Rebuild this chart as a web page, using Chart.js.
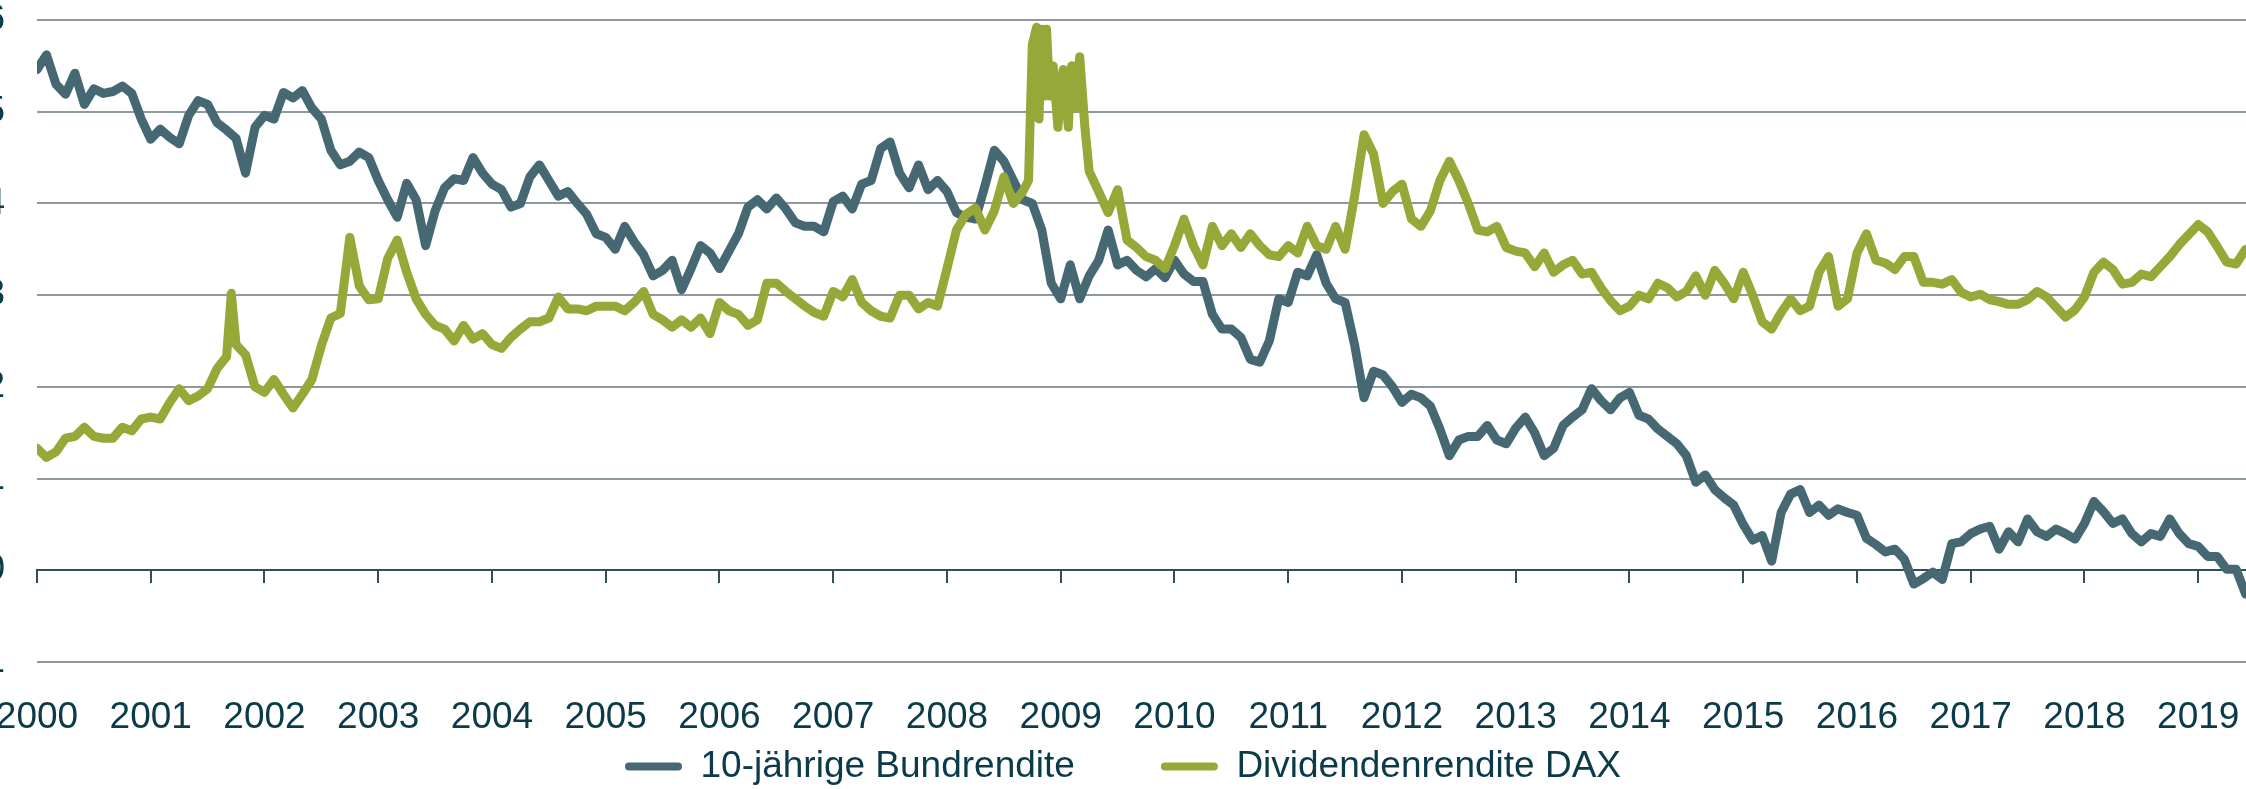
<!DOCTYPE html>
<html lang="de">
<head>
<meta charset="utf-8">
<title>10-jährige Bundrendite und Dividendenrendite DAX</title>
<script src="https://cdn.jsdelivr.net/npm/chart.js@4.4.1/dist/chart.umd.min.js"></script>
<style>
  html, body { margin: 0; padding: 0; background: #ffffff; overflow: hidden; }
  #wrap { position: relative; width: 2246px; height: 789px; overflow: hidden; }
</style>
</head>
<body>
<div id="wrap"><canvas id="chart"></canvas></div>
<script>
// Monthly observations, January 2000 to June 2019 (month index 0 = Jan 2000)
const startYear = 2000;
const monthCount = 234;

// 10-year Bund yield, % (one value per month, rows = years 2000..2019)
const bund = [
  5.46, 5.62, 5.30, 5.19, 5.42, 5.08, 5.25, 5.20, 5.22, 5.28, 5.20, 4.92,
  4.70, 4.81, 4.72, 4.65, 4.96, 5.12, 5.08, 4.88, 4.80, 4.71, 4.33, 4.83,
  4.96, 4.92, 5.21, 5.15, 5.23, 5.04, 4.92, 4.58, 4.42, 4.46, 4.56, 4.50,
  4.25, 4.04, 3.85, 4.22, 4.04, 3.54, 3.92, 4.17, 4.27, 4.25, 4.50, 4.33,
  4.21, 4.15, 3.96, 4.00, 4.29, 4.42, 4.25, 4.08, 4.13, 4.00, 3.88, 3.67,
  3.63, 3.50, 3.75, 3.58, 3.44, 3.21, 3.27, 3.38, 3.06, 3.29, 3.54, 3.46,
  3.29, 3.48, 3.67, 3.96, 4.04, 3.94, 4.06, 3.94, 3.79, 3.75, 3.75, 3.69,
  4.02, 4.08, 3.94, 4.21, 4.25, 4.60, 4.67, 4.33, 4.17, 4.42, 4.15, 4.25,
  4.13, 3.90, 3.85, 3.83, 4.19, 4.58, 4.46, 4.25, 4.04, 4.00, 3.71, 3.13,
  2.96, 3.33, 2.96, 3.21, 3.38, 3.71, 3.33, 3.38, 3.27, 3.20, 3.29, 3.19,
  3.38, 3.23, 3.15, 3.15, 2.79, 2.63, 2.63, 2.54, 2.30, 2.27, 2.50, 2.96,
  2.92, 3.25, 3.21, 3.44, 3.13, 2.96, 2.92, 2.46, 1.88, 2.17, 2.13, 2.00,
  1.83, 1.92, 1.88, 1.79, 1.54, 1.25, 1.42, 1.46, 1.46, 1.58, 1.42, 1.38,
  1.55, 1.67, 1.50, 1.25, 1.33, 1.58, 1.67, 1.75, 1.98, 1.85, 1.75, 1.88,
  1.94, 1.69, 1.65, 1.54, 1.46, 1.38, 1.25, 0.96, 1.04, 0.88, 0.79, 0.71,
  0.50, 0.33, 0.38, 0.10, 0.63, 0.83, 0.88, 0.63, 0.71, 0.60, 0.67, 0.63,
  0.60, 0.35, 0.28, 0.20, 0.23, 0.12, -0.15, -0.09, -0.02, -0.10, 0.29, 0.31,
  0.40, 0.45, 0.48, 0.23, 0.42, 0.31, 0.56, 0.42, 0.37, 0.45, 0.40, 0.34,
  0.51, 0.75, 0.64, 0.51, 0.56, 0.40, 0.31, 0.40, 0.37, 0.56, 0.40, 0.29,
  0.26, 0.15, 0.15, 0.01, 0.01, -0.26
];

// DAX dividend yield, % (one value per month, rows = years 2000..2019)
const dax = [
  1.33, 1.23, 1.29, 1.44, 1.46, 1.56, 1.46, 1.44, 1.44, 1.56, 1.52, 1.65,
  1.67, 1.65, 1.83, 1.98, 1.85, 1.90, 1.98, 2.20, 2.33, 2.46, 2.35, 2.00,
  1.94, 2.08, 1.92, 1.77, 1.92, 2.08, 2.45, 2.75, 2.80, 3.63, 3.10, 2.95,
  2.96, 3.40, 3.60, 3.25, 2.96, 2.79, 2.67, 2.63, 2.50, 2.67, 2.52, 2.58,
  2.46, 2.42, 2.54, 2.63, 2.71, 2.71, 2.75, 2.98, 2.85, 2.85, 2.83, 2.88,
  2.88, 2.88, 2.83, 2.92, 3.04, 2.79, 2.73, 2.65, 2.73, 2.65, 2.75, 2.58,
  2.92, 2.83, 2.79, 2.67, 2.73, 3.13, 3.13, 3.04, 2.96, 2.88, 2.81, 2.77,
  3.04, 2.98, 3.17, 2.92, 2.83, 2.77, 2.75, 3.00, 3.00, 2.85, 2.92, 2.88,
  3.29, 3.71, 3.88, 3.95, 3.71, 3.92, 4.29, 4.00, 4.13, 5.73, 5.90, 5.30,
  5.25, 5.30, 5.60, 4.35, 4.13, 3.90, 4.15, 3.60, 3.52, 3.42, 3.38, 3.29,
  3.54, 3.83, 3.54, 3.33, 3.75, 3.54, 3.67, 3.52, 3.67, 3.54, 3.44, 3.42,
  3.54, 3.46, 3.75, 3.54, 3.50, 3.75, 3.50, 4.08, 4.75, 4.54, 4.00, 4.13,
  4.21, 3.83, 3.75, 3.92, 4.25, 4.46, 4.25, 4.00, 3.71, 3.69, 3.75, 3.52,
  3.48, 3.46, 3.31, 3.46, 3.25, 3.33, 3.38, 3.23, 3.25, 3.08, 2.94, 2.83,
  2.88, 3.00, 2.96, 3.13, 3.08, 2.98, 3.04, 3.21, 3.00, 3.27, 3.13, 2.96,
  3.25, 3.00, 2.71, 2.63, 2.81, 2.96, 2.83, 2.88, 3.25, 3.42, 2.88, 2.96,
  3.46, 3.67, 3.38, 3.35, 3.28, 3.42, 3.42, 3.14, 3.14, 3.12, 3.17, 3.03,
  2.98, 3.01, 2.95, 2.93, 2.90, 2.90, 2.95, 3.04, 2.98, 2.87, 2.76, 2.84,
  2.98, 3.25, 3.36, 3.28, 3.12, 3.14, 3.23, 3.20, 3.31, 3.42, 3.55, 3.66,
  3.77, 3.69, 3.53, 3.36, 3.34, 3.50
];

// Intra-month DAX readings around the 2001 and 2008/09 spikes (month index, %)
const daxSpikeMonths = [20.5, 104.6, 105.45, 105.7, 106.33, 106.5, 106.85, 107.2, 107.7, 108.26, 108.8, 109.15, 109.5, 110.55];
const daxSpikeValues = [3.02, 4.25, 5.92, 4.92, 5.17, 5.90, 5.17, 5.50, 4.83, 5.46, 4.83, 5.50, 5.04, 4.83];

const seriesLabels = ['10-jährige Bundrendite', 'Dividendenrendite DAX'];

// ---- styling ----
const TEXT_COLOR = '#0b3a48';
const GRID_COLOR = '#8e999d';
const AXIS_COLOR = '#2f4f5a';
const BUND_COLOR = '#456873';
const DAX_COLOR = '#96a838';
const FONT = { family: '"Liberation Sans", Arial, Helvetica, sans-serif', size: 37 };

Chart.defaults.font.family = FONT.family;
Chart.defaults.font.size = FONT.size;
Chart.defaults.color = TEXT_COLOR;

const toYear = m => startYear + m / 12;
const months = Array.from({ length: monthCount }, (_, i) => i);

const bundPoints = months.map((m, i) => ({ x: toYear(m), y: bund[i] }));
const daxPoints = months.map((m, i) => ({ x: toYear(m), y: dax[i] }))
  .concat(daxSpikeMonths.map((m, i) => ({ x: toYear(m), y: daxSpikeValues[i] })))
  .sort((a, b) => a.x - b.x);

const X_MIN = 2000;
const X_MAX = 2019.42;

const noPadding = scale => {
  scale.paddingLeft = 0; scale.paddingRight = 0;
  scale.paddingTop = 0; scale.paddingBottom = 0;
};

const lineStyle = color => ({
  borderColor: color,
  backgroundColor: color,
  borderWidth: 9,
  borderJoinStyle: 'round',
  borderCapStyle: 'round',
  pointRadius: 0,
  tension: 0,
  xAxisID: 'x',
  yAxisID: 'y'
});

new Chart(document.getElementById('chart'), {
  type: 'line',
  data: {
    datasets: [
      Object.assign({ label: seriesLabels[0], data: bundPoints, order: 1 }, lineStyle(BUND_COLOR)),
      Object.assign({ label: seriesLabels[1], data: daxPoints, order: 0 }, lineStyle(DAX_COLOR))
    ]
  },
  options: {
    responsive: true,
    maintainAspectRatio: false,
    animation: false,
    events: [],
    layout: { padding: { top: 20, bottom: -6, left: 0, right: 0 } },
    plugins: {
      tooltip: { enabled: false },
      legend: {
        position: 'bottom',
        labels: {
          boxWidth: 57,
          boxHeight: 8,
          padding: 86,
          useBorderRadius: true,
          borderRadius: 4,
          color: TEXT_COLOR,
          font: FONT,
          sort: (a, b) => a.datasetIndex - b.datasetIndex,
          generateLabels(chart) {
            const items = Chart.defaults.plugins.legend.labels.generateLabels(chart);
            items.forEach(item => { item.lineWidth = 0; item.fillStyle = item.strokeStyle; });
            return items;
          }
        }
      }
    },
    scales: {
      // time axis drawn on the zero line; year labels sit below the plot
      x: {
        type: 'linear',
        display: true,
        position: { y: 0 },
        min: X_MIN,
        max: X_MAX,
        grid: { display: true, drawOnChartArea: false, drawTicks: true, tickLength: 12, color: AXIS_COLOR, lineWidth: 2 },
        border: { display: true, color: AXIS_COLOR, width: 2 },
        ticks: {
          stepSize: 1,
          maxTicksLimit: 25,
          includeBounds: false,
          autoSkip: false,
          maxRotation: 0,
          padding: 113,
          color: TEXT_COLOR,
          font: FONT,
          callback: v => String(v)
        },
        afterFit(scale) { noPadding(scale); }
      },
      y: {
        type: 'linear',
        display: true,
        position: 'left',
        min: -1,
        max: 6,
        grid: {
          drawTicks: false,
          lineWidth: 2,
          color: ctx => (ctx.tick && ctx.tick.value === 0 ? AXIS_COLOR : GRID_COLOR)
        },
        border: { display: false },
        ticks: { stepSize: 1, padding: 32, color: TEXT_COLOR, font: FONT },
        afterFit(scale) { noPadding(scale); scale.width = 37; }
      }
    }
  }
});
</script>
</body>
</html>
